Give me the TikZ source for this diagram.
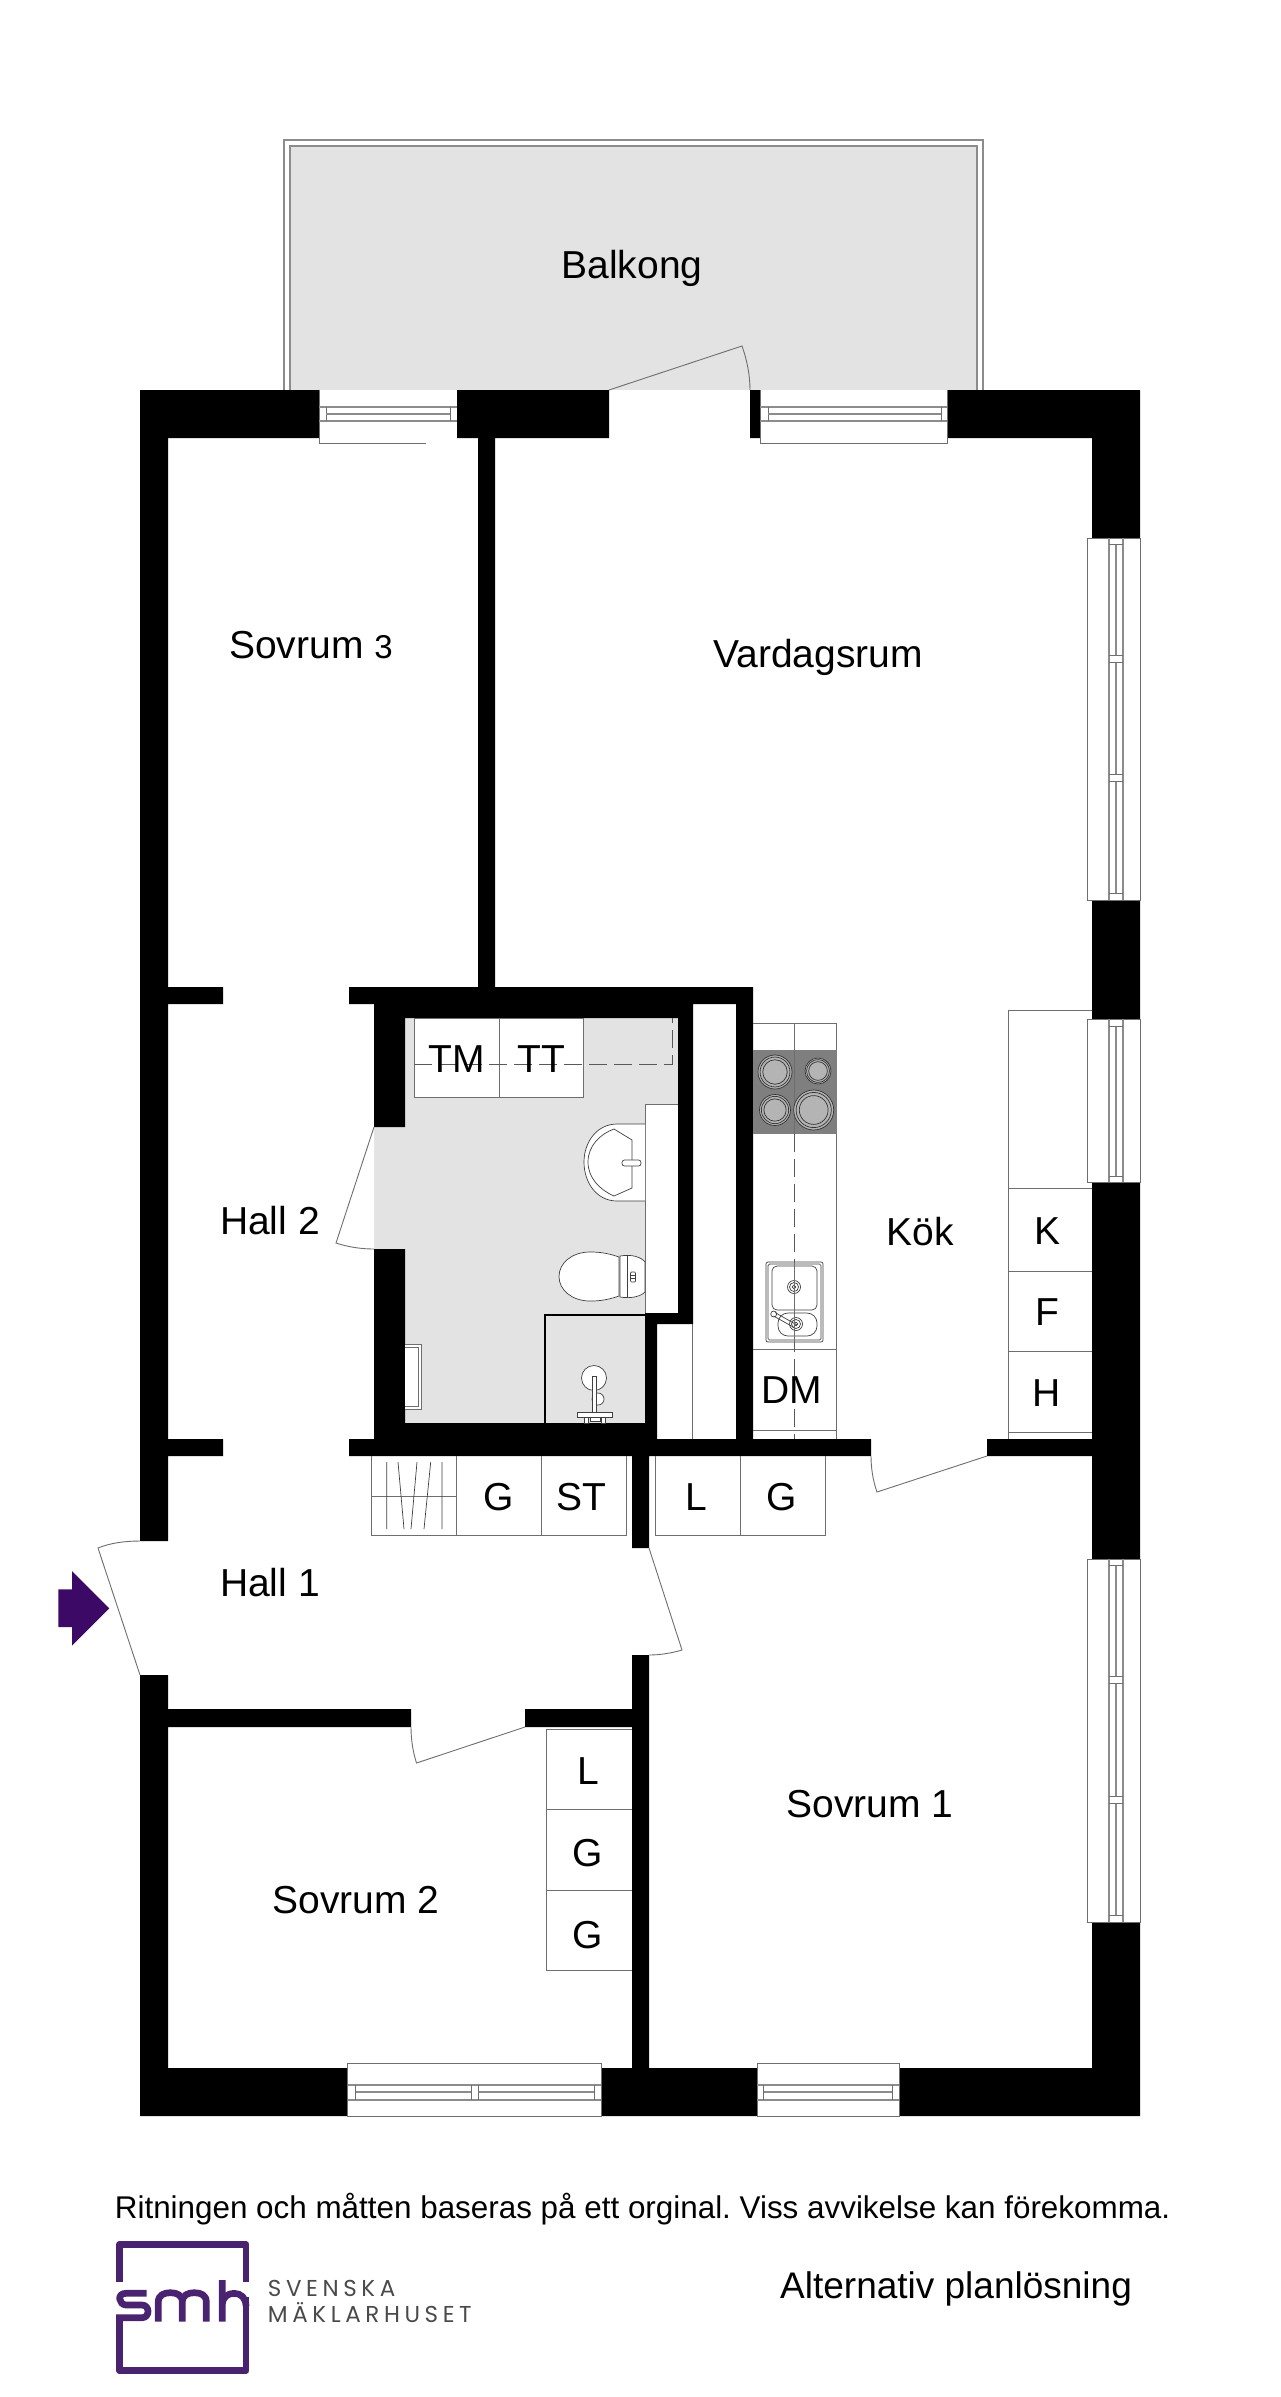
\documentclass[tikz,border=0pt]{standalone}
\usepackage{fontspec}
\setmainfont{Liberation Sans}
\newfontfamily\logofont[LetterSpace=20]{Poppins}
\definecolor{floorgray}{HTML}{E3E3E3}
\definecolor{linegray}{HTML}{6E6E6E}
\definecolor{glassgray}{HTML}{8C8C8C}
\definecolor{hobgray}{HTML}{7F7F7F}
\definecolor{ringgray}{HTML}{B4B4B4}
\definecolor{smhpurple}{HTML}{4A2370}
\definecolor{arrowpurple}{HTML}{3C0A66}
\definecolor{logotext}{HTML}{4A4A4A}
\tikzset{
  wallfill/.style={fill=black,draw=none},
  thinline/.style={draw=linegray,line width=0.9pt},
  glassline/.style={draw=glassgray,line width=1.2pt},
  fixture/.style={draw=black!75,line width=0.7pt},
  dashline/.style={draw=black!65,line width=1pt,dash pattern=on 18pt off 7pt},
  room/.style={anchor=base,inner sep=0pt,font=\fontsize{39}{41}\selectfont},
  altnote/.style={anchor=base west,inner sep=0pt,font=\fontsize{37}{39}\selectfont},
  smallnote/.style={anchor=base west,inner sep=0pt,font=\frenchspacing\fontsize{31.4}{33}\selectfont},
  logoword/.style={anchor=base west,inner sep=0pt,text=logotext,font=\logofont\fontsize{23}{25}\selectfont},
  logostroke/.style={draw=smhpurple,line width=6.7pt,line join=round},
  burner/.style={draw=black!80,line width=0.7pt,fill=ringgray}
}
\newcommand{\vwindow}[3]{%
  \draw[thinline] (1092,#1) -- (1087,#1) -- (1087,#2) -- (1092,#2);
  \draw[thinline] (1092,#1) -- (1140,#1) -- (1140,#2) -- (1092,#2);
  \draw[glassline] (1109,#1) -- (1109,#2) (1123,#1) -- (1123,#2);
  \foreach \ya/\yb in {#3}{\draw[glassline] (1116,\ya) -- (1116,\yb);\draw[thinline] (1109,\ya) -- (1123,\ya) (1109,\yb) -- (1123,\yb);}
}
\begin{document}
\begin{tikzpicture}[x=1pt,y=-1pt]
\useasboundingbox (0,0) rectangle (1280,2397);
\fill[white] (0,0) rectangle (1280,2397);
% balcony
\draw[glassline] (284,390) -- (284,140) -- (983,140) -- (983,390);
\draw[glassline,fill=floorgray] (290,390) -- (290,146) -- (977,146) -- (977,390);
\node[room] (balkong) at (632,279) {Balkong};
\draw[thinline] (609,390) -- (742,346) .. controls (747,360) and (750,375) .. (750,390);
% bathroom floor
\fill[floorgray] (405,1018) -- (678,1018) -- (678,1104) -- (645,1104) -- (645,1423) -- (405,1423) -- (405,1249) -- (374,1249) -- (374,1127) -- (405,1127) -- cycle;
\draw[thinline] (678,1104) -- (645,1104) -- (645,1313);
\draw[thinline] (405,1423) -- (645,1423);
% walls
\fill[wallfill]
 (140,390) rectangle (319,438) (457,390) rectangle (609,438) (750,390) rectangle (760,438) (947,390) rectangle (1140,438)
 (140,390) rectangle (168,1541) (140,1675) rectangle (168,2116)
 (140,2068) rectangle (347.5,2116) (601,2068) rectangle (757,2116) (899,2068) rectangle (1140,2116)
 (1092,390) rectangle (1140,538) (1092,900) rectangle (1140,1019) (1092,1182) rectangle (1140,1559) (1092,1922) rectangle (1140,2116)
 (168,987) rectangle (223,1004) (168,1439) rectangle (223,1456)
 (349,1439) rectangle (871,1456) (987,1439) rectangle (1140,1456)
 (349,987) rectangle (753,1004) (374,1004) rectangle (693,1018)
 (374,1018) rectangle (405,1127) (374,1249) rectangle (405,1439) (405,1423) rectangle (657,1439)
 (678,1004) rectangle (693,1313) (645,1313) rectangle (693,1324) (645,1324) rectangle (657,1423)
 (736,987) rectangle (753,1439) (478,438) rectangle (495,987)
 (632,1456) rectangle (649,1548) (632,1655) rectangle (649,2068)
 (168,1709) rectangle (411,1727) (525,1709) rectangle (632,1727);
% top windows
\draw[thinline] (319,390) -- (319,443) -- (426,443);
\draw[glassline] (319,407) -- (457,407) (319,421) -- (457,421);
\draw[thinline] (326,407) -- (326,421) (450,407) -- (450,421);
\draw[glassline] (326,414) -- (450,414);
\draw[thinline] (760,390) -- (760,443) -- (947,443) -- (947,390);
\draw[glassline] (760,407) -- (947,407) (760,421) -- (947,421);
\draw[thinline] (768,407) -- (768,421) (941,407) -- (941,421);
\draw[glassline] (768,414) -- (941,414);
% east windows
\vwindow{538}{900}{544/655,662/774,781/893}
\vwindow{1019}{1182}{1026/1176}
\vwindow{1559}{1922}{1565/1676,1683/1796,1803/1915}
% south windows
\draw[thinline] (347.5,2068) -- (347.5,2063) -- (601,2063) -- (601,2068) (347.5,2063) -- (347.5,2116) -- (601,2116) -- (601,2063);
\draw[glassline] (347.5,2085) -- (601,2085) (347.5,2100) -- (601,2100);
\draw[glassline] (355,2092) -- (471,2092) (478,2092) -- (594,2092);
\draw[thinline] (355,2085) -- (355,2100) (471,2085) -- (471,2100) (478,2085) -- (478,2100) (594,2085) -- (594,2100);
\draw[thinline] (757,2063) -- (899,2063) -- (899,2116) -- (757,2116) -- cycle;
\draw[glassline] (757,2085) -- (899,2085) (757,2100) -- (899,2100);
\draw[glassline] (763,2092) -- (892,2092);
\draw[thinline] (763,2085) -- (763,2100) (892,2085) -- (892,2100);
% doors
\draw[thinline] (140,1541) .. controls (125,1541) and (110,1543) .. (98,1548) -- (140,1675);
\draw[thinline] (649,1548) -- (682,1650) .. controls (672,1653) and (660,1655) .. (649,1655);
\draw[thinline] (525,1727) -- (416.5,1763) .. controls (413,1752) and (411,1740) .. (411,1727);
\draw[thinline] (987,1456) -- (877,1492) .. controls (873,1481) and (871,1468) .. (871,1456);
\fill[white] (374,1127) -- (336,1243) .. controls (348,1247) and (361,1249) .. (374,1249) -- cycle;
\draw[thinline] (374,1127) -- (336,1243) .. controls (348,1247) and (361,1249) .. (374,1249);
% entrance arrow
\fill[arrowpurple] (58.3,1589.3) -- (72,1589.3) -- (72,1571) -- (109.3,1608.3) -- (72,1645.7) -- (72,1627) -- (58.3,1627) -- cycle;
% bathroom cabinets
\draw[thinline,fill=white] (414,1018) rectangle (499,1097);
\draw[thinline,fill=white] (499,1018) rectangle (583,1097);
\draw[dashline] (414,1064) -- (672.7,1064) -- (672.7,1018);
\node[room] (tm) at (457,1072) {TM};
\node[room] (tt) at (541,1072) {TT};
% shaft thin lines
\draw[thinline] (692.7,1324) -- (692.7,1439);
% wash basin
\draw[fixture,fill=white] (645,1124) -- (617,1124) .. controls (597,1124) and (584,1142) .. (584,1162) .. controls (584,1183) and (597,1201) .. (617,1201) -- (645,1201);
\draw[fixture] (614,1129) -- (632,1140) -- (632,1188) -- (614,1196) .. controls (600,1190) and (588,1178) .. (588,1162) .. controls (588,1146) and (600,1134) .. (614,1129);
\draw[fixture,fill=white,rounded corners=2.5pt] (622,1160) rectangle (641,1166);
% toilet
\draw[fixture,fill=white] (619,1257) .. controls (605,1252) and (595,1252) .. (590,1252) .. controls (572,1252) and (559,1263) .. (559,1276.5) .. controls (559,1290) and (572,1301) .. (590,1301) .. controls (595,1301) and (605,1301) .. (619,1296) -- cycle;
\draw[fixture,fill=white] (620,1256) .. controls (632,1254) and (641,1257) .. (645,1262) -- (645,1292) .. controls (641,1296) and (632,1299) .. (620,1297) -- cycle;
\draw[fixture] (627,1255.5) -- (627,1297.5);
\draw[fixture,rounded corners=1pt] (630.5,1272) rectangle (635.5,1282);
\draw[fixture] (630.5,1275) -- (635.5,1275) (630.5,1278.5) -- (635.5,1278.5);
% shower
\draw[draw=black,line width=1.6pt] (545,1423) -- (545,1315) -- (645,1315);
\draw[fixture,fill=white] (594,1378) circle[radius=12.5];
\draw[fixture,fill=white] (598,1399) circle[radius=6];
\draw[fixture,fill=white] (592.7,1420) -- (592.7,1376) -- (596.7,1376) -- (596.7,1420);
\draw[fixture,fill=white] (577,1412) rectangle (612,1417);
\draw[fixture,fill=white] (584,1417) rectangle (588,1423) (601,1417) rectangle (605,1423) (590,1417) rectangle (600,1421);
% radiator
\draw[thinline,fill=white] (405,1344) -- (421.7,1344) -- (421.7,1409) -- (405,1409);
\draw[thinline] (405,1347) -- (418,1347) -- (418,1406) -- (405,1406);
% hall closets
\draw[thinline] (371.7,1456) -- (371.7,1535.7) -- (626,1535.7) -- (626,1456) (456,1456) -- (456,1535.7) (541,1456) -- (541,1535.7);
\draw[thinline] (371.7,1496) -- (456,1496);
\draw[fixture] (386.7,1462) -- (386.7,1529) (442,1462) -- (442,1529) (398,1462) -- (404,1529) (417,1462) -- (411,1529) (430.7,1462) -- (424,1529);
\node[room] (g1) at (498.7,1510) {G};
\node[room] (st) at (581,1510) {ST};
\draw[thinline] (655,1456) -- (655,1535.7) -- (825,1535.7) -- (825,1456) (740,1456) -- (740,1535.7);
\node[room] (l1) at (696.5,1510) {L};
\node[room] (g2) at (782,1510) {G};
% bedroom 2 closets
\draw[thinline] (632,1729) -- (546,1729) -- (546,1970) -- (632,1970) (546,1809) -- (632,1809) (546,1890) -- (632,1890);
\node[room] (l2) at (588,1784) {L};
\node[room] (g3) at (588,1866) {G};
\node[room] (g4) at (588,1948) {G};
% kitchen counter
\draw[thinline] (753,1023) -- (836.7,1023) -- (836.7,1439) (753,1349) -- (836.7,1349) (753,1430) -- (836.7,1430);
\fill[hobgray] (753,1050) rectangle (836.7,1134);
\draw[thinline] (794,1023) -- (794,1134);
\draw[dashline] (794,1134) -- (794,1439);
\foreach \cx/\cy/\r in {775/1072/17,818/1071/13,775/1110/15.5,813.7/1110/20}{
  \draw[burner] (\cx,\cy) circle[radius=\r];
  \draw[burner] (\cx,\cy) circle[radius={\r*0.88}];
  \draw[burner] (\cx,\cy) circle[radius={\r*0.72}];
}
% kitchen sink
\draw[fixture,fill=white,rounded corners=2pt] (766,1262) rectangle (823,1342);
\draw[fixture,rounded corners=1.5pt] (768,1264) rectangle (821,1340);
\draw[fixture,rounded corners=5pt] (772,1266) rectangle (817,1310);
\draw[fixture,rounded corners=10pt] (778,1313) rectangle (817,1336);
\draw[fixture] (794,1287) circle[radius=6.5] (794,1287) circle[radius=4.5] (794,1287) circle[radius=1.8];
\draw[fixture] (796,1324) circle[radius=6.5] (796,1324) circle[radius=4.5] (796,1324) circle[radius=1.8];
\draw[fixture,fill=white] (773.7,1314) circle[radius=3];
\draw[fixture] (775,1312.5) -- (797,1325) (773.5,1316) -- (795,1328);
\draw[thinline] (794,1262) -- (794,1342);
\node[room] (dm) at (792,1403) {DM};
% kitchen tall units
\draw[thinline] (1092,1010) -- (1008,1010) -- (1008,1439) (1008,1188.6) -- (1092,1188.6) (1008,1271) -- (1092,1271) (1008,1351) -- (1092,1351) (1008,1432) -- (1092,1432);
\node[room] (k) at (1047,1244) {K};
\node[room] (f) at (1047,1325) {F};
\node[room] (h) at (1047,1406) {H};
% room labels
\node[room] (sov3) at (311,658) {Sovrum {\fontsize{33}{36}\selectfont 3}};
\node[room] (vard) at (818,667) {Vardagsrum};
\node[room] (hall2) at (270,1234) {Hall 2};
\node[room] (kok) at (920,1245) {Kök};
\node[room] (hall1) at (270,1596) {Hall 1};
\node[room] (sov2) at (356,1913) {Sovrum 2};
\node[room] (sov1) at (870,1817) {Sovrum 1};
% footer
\node[smallnote] (note) at (114.7,2218) {Ritningen och måtten baseras på ett orginal. Viss avvikelse kan förekomma.};
\node[altnote] (alt) at (780,2298) {Alternativ planlösning};
% logo
\draw[logostroke,line cap=butt] (119.3,2281.7) -- (119.3,2244.3) -- (246,2244.3) -- (246,2281.7);
\draw[logostroke,line cap=butt] (119.3,2317.7) -- (119.3,2370.7) -- (246,2370.7) -- (246,2297);
\draw[logostroke,line cap=butt] (146.7,2293.3) -- (126,2293.3) .. controls (116,2293.3) and (119.3,2305) .. (126,2305) -- (142,2305) .. controls (150,2305) and (150,2317.7) .. (142,2317.7) -- (116,2317.7);
\draw[logostroke,line cap=butt] (158.3,2321.7) -- (158.3,2302) .. controls (158.3,2295) and (164,2292.7) .. (170.3,2292.7) .. controls (177,2292.7) and (182.3,2295) .. (182.3,2302) -- (182.3,2321.7) (182.3,2302) .. controls (182.3,2295) and (188,2292.7) .. (194.3,2292.7) .. controls (201,2292.7) and (206.3,2295) .. (206.3,2302) -- (206.3,2321.7);
\draw[logostroke,line cap=butt] (222.3,2280) -- (222.3,2321.7) (222.3,2305) .. controls (222.3,2297) and (228,2293.3) .. (234,2293.3) .. controls (241,2293.3) and (246,2298) .. (246,2306);
\node[logoword] (sv) at (267.7,2296) {SVENSKA};
\node[logoword] (mk) at (267.7,2322.7) {MÄKLARHUSET};
\end{tikzpicture}
\end{document}
